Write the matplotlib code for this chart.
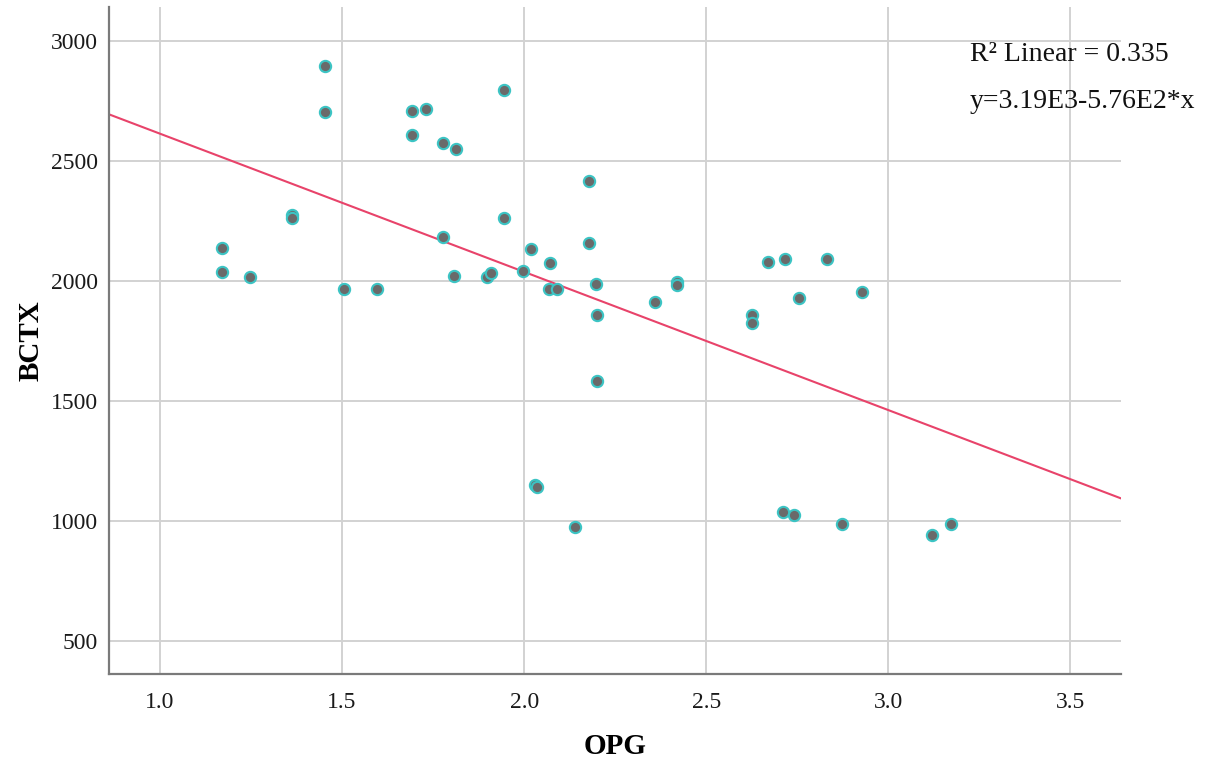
import matplotlib
matplotlib.use("Agg")
import matplotlib.pyplot as plt
import numpy as np

# OPG vs BCTX observations
opg = [1.170, 1.170, 1.246, 1.362, 1.362, 1.454, 1.454, 1.506, 1.596,
       1.693, 1.693, 1.730, 1.777, 1.812, 1.777, 1.807, 1.897, 1.908,
       1.946, 1.946, 1.997, 2.020, 2.070, 2.068, 2.091, 2.178, 2.178,
       2.198, 2.200, 2.200, 2.359, 2.420, 2.420, 2.626, 2.626, 2.670,
       2.715, 2.756, 2.833, 2.929, 2.030, 2.036, 2.140, 2.711, 2.741,
       2.873, 3.121, 3.173]
bctx = [2139, 2037, 2018, 2275, 2262, 2896, 2705, 1968, 1968,
        2707, 2607, 2718, 2575, 2551, 2183, 2022, 2015, 2032,
        2795, 2264, 2042, 2132, 2074, 1968, 1968, 2418, 2158,
        1986, 1858, 1585, 1912, 1996, 1985, 1858, 1825, 2079,
        2092, 1929, 2093, 1954, 1150, 1140, 974, 1036, 1025,
        989, 943, 989]

# Linear fit reported for the data
fit_intercept = 3190.0
fit_slope = -576.0
r_squared = 0.335

x_ticks = [1.0, 1.5, 2.0, 2.5, 3.0, 3.5]
y_ticks = [500, 1000, 1500, 2000, 2500, 3000]

plt.rcParams['font.family'] = ['Liberation Serif', 'DejaVu Serif']

W, H = 1219, 765
fig = plt.figure(figsize=(W / 100, H / 100), dpi=100)
ax = fig.add_axes([109 / W, 91 / H, 1012 / W, 667 / H])

xlim = (0.860, 3.639)
ylim = (362, 3142)
ax.set_xlim(*xlim)
ax.set_ylim(*ylim)

ax.set_xticks(x_ticks)
ax.set_xticklabels([f"{t:.1f}" for t in x_ticks])
ax.set_yticks(y_ticks)
ax.set_yticklabels([str(t) for t in y_ticks])
ax.tick_params(length=0, labelsize=17, colors='#1a1a1a')
ax.tick_params(axis='x', pad=13)
ax.tick_params(axis='y', pad=8)

ax.grid(True, color='#d2d2d2', linewidth=1.4)
ax.set_axisbelow(True)

for s in ('top', 'right'):
    ax.spines[s].set_visible(False)
for s in ('left', 'bottom'):
    ax.spines[s].set_color('#7a7a7a')
    ax.spines[s].set_linewidth(1.6)

# Regression line across the full x range
xx = np.array(xlim)
ax.plot(xx, fit_intercept + fit_slope * xx, color='#e8436a', linewidth=1.5,
        zorder=2)

ax.scatter(opg, bctx, s=66, facecolor='#6a6a6a', edgecolor='#3cc4c4',
           linewidth=1.5, zorder=3)

# Axis titles
ax.set_xlabel('OPG', fontsize=21, fontweight='bold')
ax.set_ylabel('BCTX', fontsize=21, fontweight='bold')
ax.xaxis.set_label_coords(0.5, (674 - 746) / 667)
ax.xaxis.label.set_va('center')
ax.yaxis.set_label_coords((31 - 109) / 1012, 0.5)
ax.yaxis.label.set_va('center')

ax.text(3.224, 2917, f"R\u00b2 Linear = {r_squared:.3f}", fontsize=20,
        va='baseline', ha='left', color='#111111')
ax.text(3.224, 2721,
        f"y={fit_intercept / 1000:.2f}E3-{abs(fit_slope) / 100:.2f}E2*x",
        fontsize=20, va='baseline', ha='left', color='#111111')

fig.savefig('out.png', dpi=100, facecolor='white')
